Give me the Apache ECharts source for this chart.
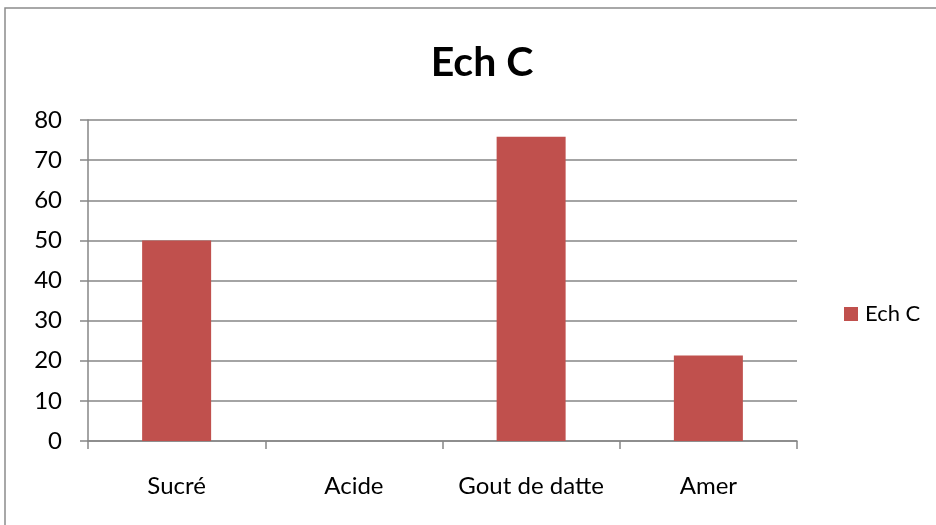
<!DOCTYPE html>
<html>
<head>
<meta charset="utf-8">
<script src="https://cdn.jsdelivr.net/npm/echarts@6/dist/echarts.min.js"></script>
<style>
  html, body { margin: 0; padding: 0; background: #fff; }
  #chart { width: 936px; height: 525px; }
</style>
</head>
<body>
<div id="chart"></div>
<script>
// Taste profile for sample C
const categories = ['Sucré', 'Acide', 'Gout de datte', 'Amer'];
const values = [50, 0, 75.8, 21.3];
const seriesName = 'Ech C';
const yTicks = { min: 0, max: 80, interval: 10 };

const FONT = 'Lato, "Open Sans", sans-serif';
const GRAY = '#868686';

const chart = echarts.init(document.getElementById('chart'));
chart.setOption({
  animation: false,
  backgroundColor: '#fff',
  graphic: [
    {
      type: 'polyline',
      shape: { points: [[5, 525], [5, 8], [936, 8]] },
      style: { stroke: '#8c8c8c', lineWidth: 1.5, fill: null }
    }
  ],
  title: {
    text: seriesName,
    left: 477,
    top: 37,
    textAlign: 'center',
    textStyle: { fontFamily: FONT, fontSize: 41, fontWeight: 'bold', color: '#000' }
  },
  legend: {
    data: [seriesName],
    left: 839,
    top: 298,
    orient: 'vertical',
    icon: 'rect',
    itemWidth: 14,
    itemHeight: 14,
    itemGap: 10,
    textStyle: { fontFamily: FONT, fontSize: 22, color: '#000', padding: [0, 0, 0, 2] }
  },
  grid: { left: 88, right: 139, top: 120, bottom: 84, containLabel: false },
  xAxis: {
    type: 'category',
    data: categories,
    axisLine: { lineStyle: { color: GRAY, width: 1.5 } },
    axisTick: { show: true, interval: 0, length: 8, alignWithLabel: false, lineStyle: { color: GRAY, width: 1.5 } },
    axisLabel: { interval: 0, margin: 33, fontFamily: FONT, fontSize: 24, color: '#000' }
  },
  yAxis: {
    type: 'value',
    min: yTicks.min,
    max: yTicks.max,
    interval: yTicks.interval,
    axisLine: { show: true, lineStyle: { color: GRAY, width: 1.5 } },
    axisTick: { show: true, length: 8, lineStyle: { color: GRAY, width: 1.5 } },
    splitLine: { lineStyle: { color: GRAY, width: 1.5 } },
    axisLabel: { margin: 26, fontFamily: FONT, fontSize: 24, color: '#000' }
  },
  series: [
    {
      name: seriesName,
      type: 'bar',
      data: values,
      barWidth: 69,
      itemStyle: { color: '#C0504D' }
    }
  ]
});
</script>
</body>
</html>
